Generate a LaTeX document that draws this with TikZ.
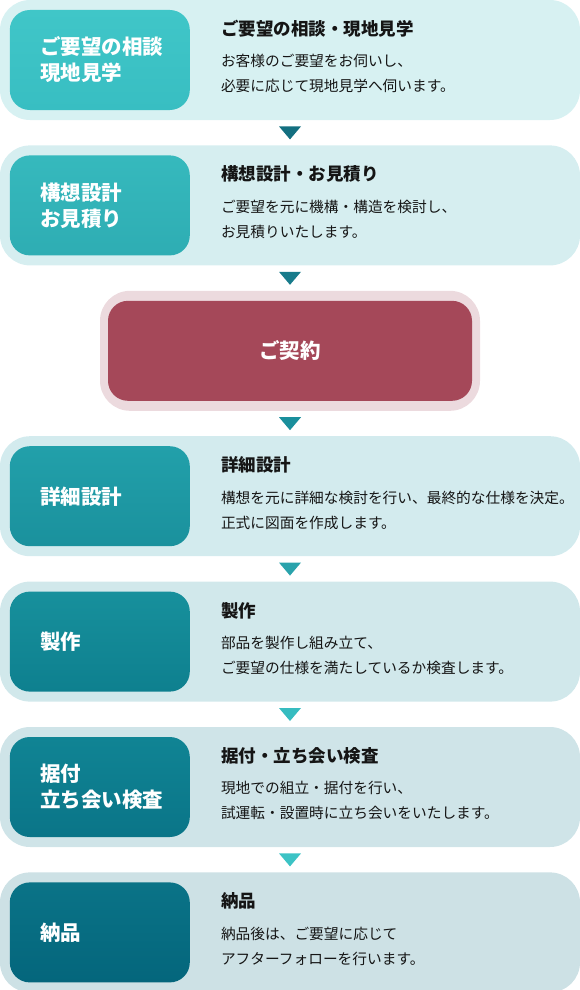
\documentclass[tikz,border=0pt]{standalone}
\usepackage{fontspec}
\setmainfont{Noto Sans CJK JP}
\usetikzlibrary{positioning,shapes.geometric}
\definecolor{Ink}{HTML}{151515}
\definecolor{BgA}{HTML}{D7F1F2}
\definecolor{BgB}{HTML}{D6EEF0}
\definecolor{BgC}{HTML}{D3EBEE}
\definecolor{BgD}{HTML}{D1E8EB}
\definecolor{BgE}{HTML}{CFE4E8}
\definecolor{BgF}{HTML}{CDE1E5}
\definecolor{TriA}{HTML}{136F80}
\definecolor{TriB}{HTML}{187B8B}
\definecolor{TriC}{HTML}{1A8F9C}
\definecolor{TriD}{HTML}{2AA3AC}
\definecolor{TriE}{HTML}{36BCC0}
\definecolor{TriF}{HTML}{3CC3C5}
\definecolor{StepAt}{HTML}{40C6C8}
\definecolor{StepAb}{HTML}{38BEC2}
\definecolor{StepBt}{HTML}{36B9BD}
\definecolor{StepBb}{HTML}{2EADB3}
\definecolor{StepCt}{HTML}{22A0AA}
\definecolor{StepCb}{HTML}{1A919D}
\definecolor{StepDt}{HTML}{17909C}
\definecolor{StepDb}{HTML}{0E808F}
\definecolor{StepEt}{HTML}{108494}
\definecolor{StepEb}{HTML}{0A7588}
\definecolor{StepFt}{HTML}{0A7387}
\definecolor{StepFb}{HTML}{04667C}
\definecolor{Wine}{HTML}{A54859}
\definecolor{Blush}{HTML}{ECDADE}

\begin{document}
\begin{tikzpicture}[
    rowbg/.style={rounded corners=30pt,minimum width=580pt,minimum height=120pt,inner sep=0pt},
    stepbox/.style={rounded corners=20pt,minimum width=180pt,minimum height=100pt,inner sep=0pt,
      top color=#1t,bottom color=#1b},
    lbl/.style={anchor=west,align=left,inner sep=0pt,text=white,
      font=\fontsize{20.5}{26}\selectfont\bfseries},
    ttl/.style={anchor=west,inner sep=0pt,text=Ink,font=\fontsize{17.5}{20}\selectfont\bfseries},
    txt/.style={anchor=west,align=left,inner sep=0pt,text=Ink,font=\fontsize{14.7}{25}\selectfont},
    tri/.style={isosceles triangle,isosceles triangle stretches,shape border rotate=-90,
      minimum width=22pt,minimum height=13pt,inner sep=0pt,fill=#1}
  ]
    \useasboundingbox (0,0) rectangle (580pt,-990pt);
    % rows
    \node[rowbg,fill=BgA] (row1) at (290pt,-60pt) {};
    \node[rowbg,fill=BgB,below=25pt of row1] (row2) {};
    \node[rounded corners=30pt,minimum width=380pt,minimum height=120pt,inner sep=0pt,
      fill=Blush,below=25pt of row2] (deal) {};
    \node[rowbg,fill=BgC,below=25pt of deal] (row3) {};
    \node[rowbg,fill=BgD,below=25pt of row3] (row4) {};
    \node[rowbg,fill=BgE,below=25pt of row4] (row5) {};
    \node[rowbg,fill=BgF,below=25pt of row5] (row6) {};

    % coloured step boxes
    \node[stepbox=StepA] (step1) at ([xshift=100pt]row1.west) {};
    \node[stepbox=StepB] (step2) at ([xshift=100pt]row2.west) {};
    \node[stepbox=StepC] (step3) at ([xshift=100pt]row3.west) {};
    \node[stepbox=StepD] (step4) at ([xshift=100pt]row4.west) {};
    \node[stepbox=StepE] (step5) at ([xshift=100pt]row5.west) {};
    \node[stepbox=StepF] (step6) at ([xshift=100pt]row6.west) {};
    \node[rounded corners=20pt,minimum width=364pt,minimum height=100pt,inner sep=0pt,
      fill=Wine,text=white,font=\fontsize{20.5}{26}\selectfont\bfseries] (dealbox) at (deal) {ご契約};

    % labels in the boxes
    \node[lbl] (lbl1) at ([xshift=40pt]row1.west) {ご要望の相談\\現地見学};
    \node[lbl] (lbl2) at ([xshift=40pt]row2.west) {構想設計\\お見積り};
    \node[lbl] (lbl3) at ([xshift=40pt]row3.west) {詳細設計};
    \node[lbl] (lbl4) at ([xshift=40pt]row4.west) {製作};
    \node[lbl] (lbl5) at ([xshift=40pt]row5.west) {据付\\立ち会い検査};
    \node[lbl] (lbl6) at ([xshift=40pt]row6.west) {納品};

    % titles and descriptions
    \node[ttl] (ttl1) at ([xshift=221pt,yshift=-29pt]row1.north west) {ご要望の相談・現地見学};
    \node[txt] (txt1) at ([xshift=221pt,yshift=-74pt]row1.north west)
      {お客様のご要望をお伺いし、\\必要に応じて現地見学へ伺います。};
    \node[ttl] (ttl2) at ([xshift=221pt,yshift=-29pt]row2.north west) {構想設計・お見積り};
    \node[txt] (txt2) at ([xshift=221pt,yshift=-74pt]row2.north west)
      {ご要望を元に機構・構造を検討し、\\お見積りいたします。};
    \node[ttl] (ttl3) at ([xshift=221pt,yshift=-29pt]row3.north west) {詳細設計};
    \node[txt] (txt3) at ([xshift=221pt,yshift=-74pt]row3.north west)
      {構想を元に詳細な検討を行い、最終的な仕様を決定。\\正式に図面を作成します。};
    \node[ttl] (ttl4) at ([xshift=221pt,yshift=-29pt]row4.north west) {製作};
    \node[txt] (txt4) at ([xshift=221pt,yshift=-74pt]row4.north west)
      {部品を製作し組み立て、\\ご要望の仕様を満たしているか検査します。};
    \node[ttl] (ttl5) at ([xshift=221pt,yshift=-29pt]row5.north west) {据付・立ち会い検査};
    \node[txt] (txt5) at ([xshift=221pt,yshift=-74pt]row5.north west)
      {現地での組立・据付を行い、\\試運転・設置時に立ち会いをいたします。};
    \node[ttl] (ttl6) at ([xshift=221pt,yshift=-29pt]row6.north west) {納品};
    \node[txt] (txt6) at ([xshift=221pt,yshift=-74pt]row6.north west)
      {納品後は、ご要望に応じて\\アフターフォローを行います。};

    % down markers
    \node[tri=TriA,below=6pt of row1] (down1) {};
    \node[tri=TriB,below=6pt of row2] (down2) {};
    \node[tri=TriC,below=6pt of deal] (down3) {};
    \node[tri=TriD,below=6pt of row3] (down4) {};
    \node[tri=TriE,below=6pt of row4] (down5) {};
    \node[tri=TriF,below=6pt of row5] (down6) {};
  \end{tikzpicture}
\end{document}
